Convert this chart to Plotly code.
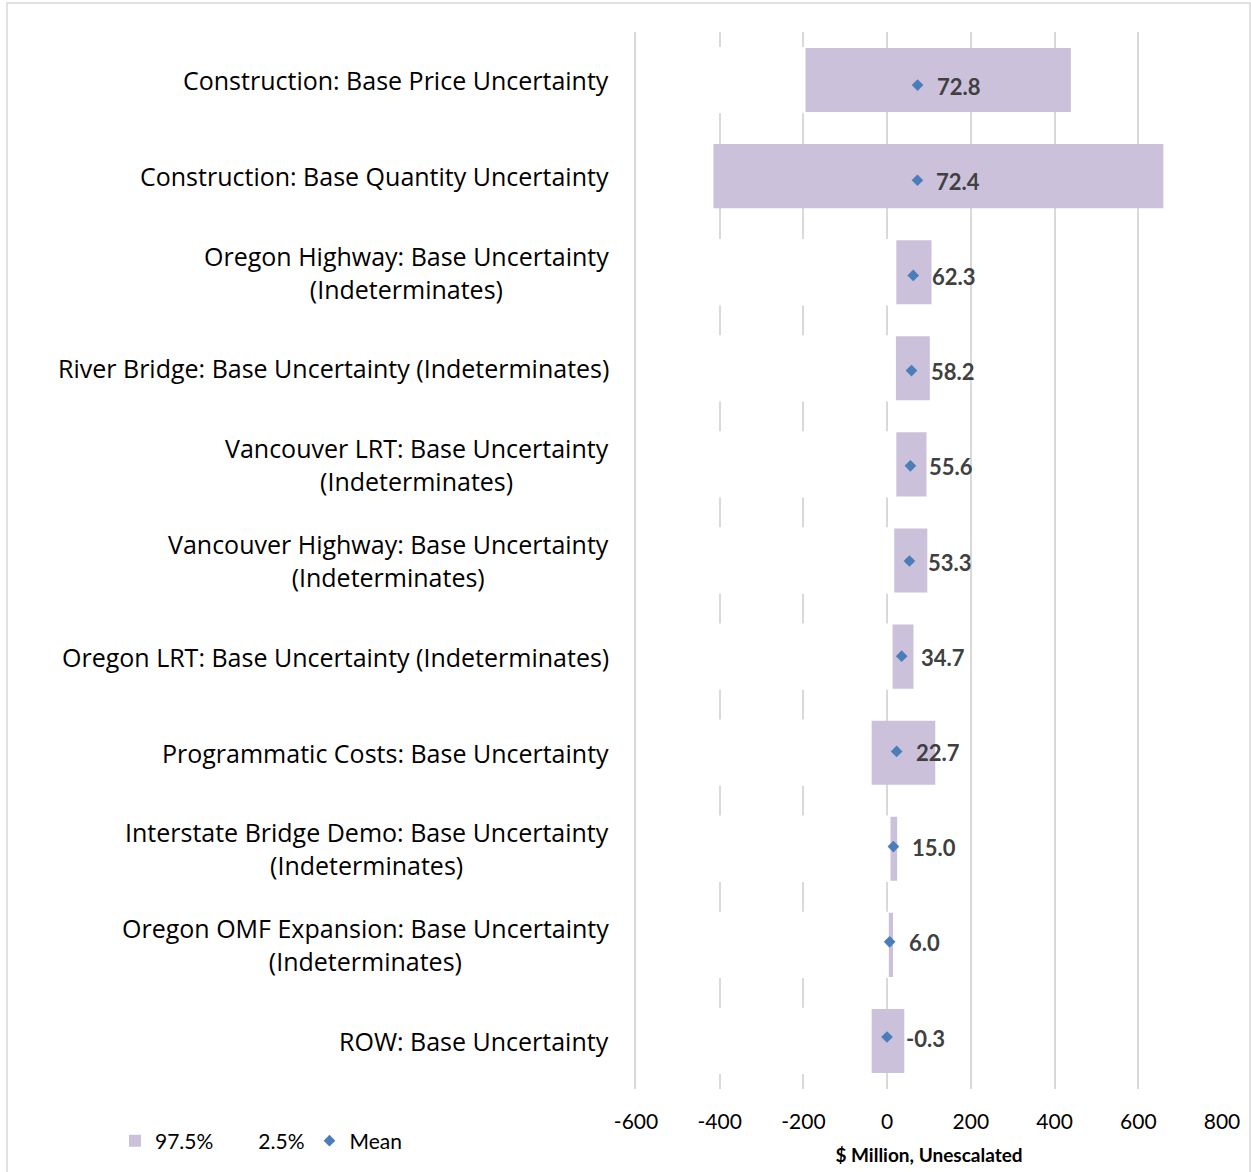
import plotly.graph_objects as go

# Cost-risk contributors (top to bottom) with their 2.5% / 97.5% range and mean
categories = [
    "Construction: Base Price Uncertainty",
    "Construction: Base Quantity Uncertainty",
    "Oregon Highway: Base Uncertainty<br>(Indeterminates)",
    "River Bridge: Base Uncertainty (Indeterminates)",
    "Vancouver LRT: Base Uncertainty<br>(Indeterminates)",
    "Vancouver Highway: Base Uncertainty<br>(Indeterminates)",
    "Oregon LRT: Base Uncertainty (Indeterminates)",
    "Programmatic Costs: Base Uncertainty",
    "Interstate Bridge Demo: Base Uncertainty<br>(Indeterminates)",
    "Oregon OMF Expansion: Base Uncertainty<br>(Indeterminates)",
    "ROW: Base Uncertainty",
]
p025 = [-195, -415, 22, 21, 22, 17, 13, -37, 8, 4, -37]
p975 = [439, 660, 106, 102, 94, 96, 63, 115, 24, 14, 41]
mean = [72.8, 72.4, 62.3, 58.2, 55.6, 53.3, 34.7, 22.7, 15.0, 6.0, -0.3]

x_ticks = [-600, -400, -200, 0, 200, 400, 600, 800]
x_tick_text = ["-600", "-400", "-200", "0", "200", "400", "600", "800"]
x_min, x_max = -600, 800

FONT = "Lato"
LABEL_FONT = "Open Sans"
PURPLE = "#CCC1DA"
BLUE = "#4A7EBB"
GRID = "#D9D9D9"

fig = go.Figure()

# Bars are anchored at the axis minimum: the 97.5% bar in purple, the 2.5% bar
# in white drawn over it, leaving the 2.5%-97.5% band visible.
fig.add_trace(go.Bar(
    name="97.5%", y=categories, x=[v - x_min for v in p975], base=x_min,
    orientation="h", width=0.667,
    marker=dict(color=PURPLE, line=dict(width=0)),
))
fig.add_trace(go.Bar(
    name="2.5%", y=categories, x=[v - x_min for v in p025], base=x_min,
    orientation="h", width=0.69,
    marker=dict(color="white", line=dict(width=0)),
))
# Means sit on their own (secondary) vertical scale
fig.add_trace(go.Scatter(
    name="Mean", y=categories, x=mean, mode="markers", yaxis="y2",
    marker=dict(symbol="diamond", size=9, color=BLUE),
))

annotations = []
for cat, m in zip(categories, mean):
    annotations.append(dict(
        x=m, y=cat, xref="x", yref="y2", text=f"{m:.1f}", showarrow=False,
        xanchor="left", xshift=17, yshift=-1,
        font=dict(family=FONT, size=22, color="#404040", weight="bold"),
    ))
    annotations.append(dict(
        x=0, y=cat, xref="paper", yref="y", text=cat, showarrow=False,
        xanchor="right", xshift=-25, align="center",
        font=dict(family=LABEL_FONT, size=25, color="#000000"),
    ))

W, H = 1251, 1172
ml, mr, mt, mb = 636, 29, 32, 83
pw, ph = W - ml - mr, H - mt - mb

fig.update_layout(
    width=W, height=H,
    margin=dict(l=ml, r=mr, t=mt, b=mb, autoexpand=False),
    paper_bgcolor="white", plot_bgcolor="white",
    barmode="overlay",
    font=dict(family=FONT, size=21, color="#000000"),
    annotations=annotations,
    showlegend=True,
    legend=dict(
        orientation="h", x=(115 - ml) / pw, xanchor="left",
        y=-(1141 - (H - mb)) / ph, yanchor="middle",
        font=dict(family=FONT, size=21, color="#000000"),
        traceorder="normal", itemwidth=30,
        bgcolor="rgba(0,0,0,0)",
    ),
    xaxis=dict(
        range=[x_min, x_max], tickvals=x_ticks, ticktext=x_tick_text,
        showgrid=True, gridcolor=GRID, gridwidth=2, zeroline=False,
        ticks="", ticklabelstandoff=18,
        tickfont=dict(family=FONT, size=21, color="#000000"),
        title=dict(text="$ Million, Unescalated", standoff=16,
                   font=dict(family=FONT, size=19, color="#000000", weight="bold")),
    ),
    yaxis=dict(
        range=[len(categories) - 0.5, -0.5], showticklabels=False, ticks="",
        showgrid=False, showline=True, linecolor=GRID, linewidth=2,
    ),
    yaxis2=dict(
        overlaying="y", range=[len(categories) - 0.454, -0.557],
        categoryorder="array", categoryarray=categories,
        visible=False, showgrid=False,
    ),
    shapes=[dict(
        type="rect", xref="paper", yref="paper",
        x0=(7 - ml) / pw, x1=(1250 - ml) / pw,
        y0=-(1180 - (H - mb)) / ph, y1=((H - mb) - 3) / ph,
        line=dict(color=GRID, width=1.5), fillcolor="rgba(0,0,0,0)",
    )],
)

fig.write_html("out.html")
